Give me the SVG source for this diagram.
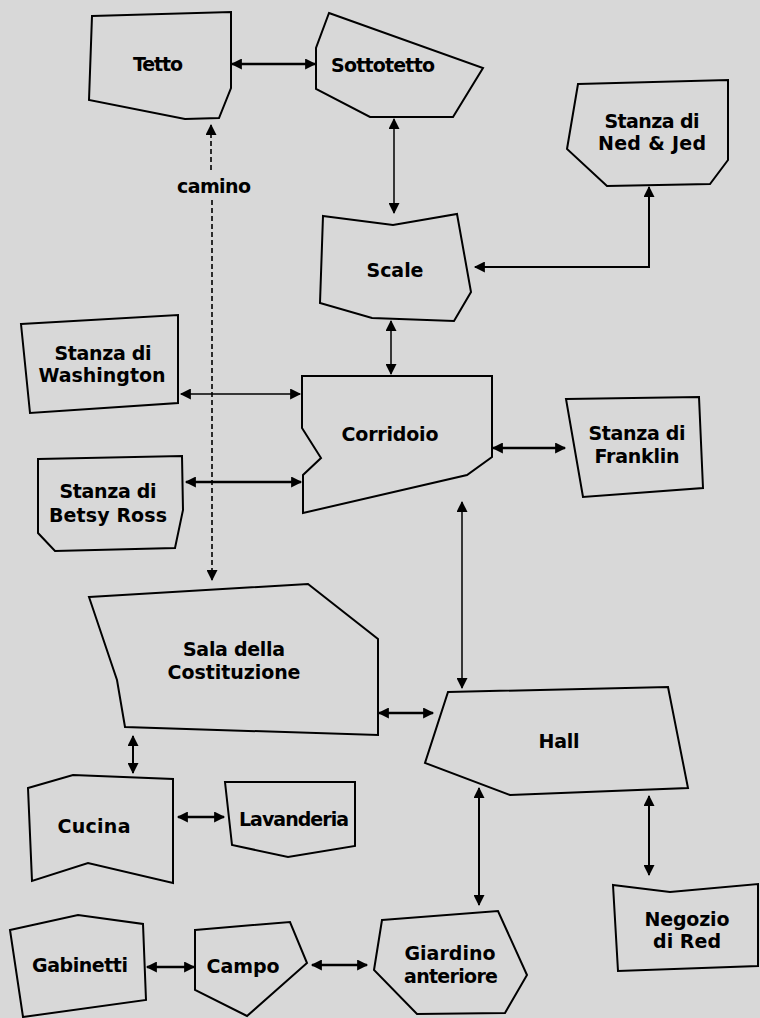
<svg xmlns="http://www.w3.org/2000/svg" width="760" height="1018" viewBox="0 0 760 1018">
<defs>
<style>
.bg{fill:#d8d8d8}
.node polygon{fill:#d8d8d8;stroke:#000;stroke-width:2;stroke-linejoin:miter}
.node text,.lbl{font-family:"DejaVu Sans","Liberation Sans",sans-serif;font-weight:bold;font-size:19px;fill:#000;text-anchor:middle}
.c{fill:none;stroke:#000;stroke-width:2;marker-start:url(#ah);marker-end:url(#ah)}
.c.thin{stroke-width:1.5}
.c.thick{stroke-width:2.5}
.c.dash{stroke-width:1.6;stroke-dasharray:5 3}
</style>
<marker id="ah" viewBox="0 0 10 10" refX="9" refY="5" markerWidth="12" markerHeight="11" markerUnits="userSpaceOnUse" orient="auto-start-reverse">
<path d="M0,0 L10,5 L0,10 z" fill="#000"/>
</marker>
</defs>
<rect class="bg" x="0" y="0" width="760" height="1018"/>

<g id="connectors">
<line class="c thick" x1="232" y1="64" x2="315" y2="64"/>
<line class="c thin" x1="394" y1="119" x2="394" y2="213"/>
<polyline class="c" points="649,187 649,267 475,267"/>
<line class="c thin" x1="391" y1="321" x2="391" y2="374"/>
<line class="c dash" x1="211" y1="125" x2="211" y2="173" style="marker-end:none"/>
<line class="c dash" x1="212" y1="200" x2="212" y2="580" style="marker-start:none"/>
<line class="c thin" x1="181" y1="394" x2="300" y2="394"/>
<line class="c thick" x1="186" y1="482" x2="301" y2="482"/>
<line class="c thick" x1="493" y1="448" x2="565" y2="448"/>
<line class="c thin" x1="462" y1="502" x2="462" y2="688"/>
<line class="c thick" x1="379" y1="713" x2="433" y2="713"/>
<line class="c" x1="133" y1="736" x2="133" y2="773"/>
<line class="c thick" x1="178" y1="817" x2="224" y2="817"/>
<line class="c" x1="479" y1="788" x2="479" y2="905"/>
<line class="c" x1="649" y1="796" x2="649" y2="875"/>
<line class="c thick" x1="147" y1="967" x2="194" y2="967"/>
<line class="c thick" x1="312" y1="965" x2="367" y2="965"/>
</g>
<text class="lbl" x="214" y="193" textLength="74" lengthAdjust="spacing">camino</text>

<g id="tetto" class="node">
<polygon points="92,16 231,12 231,88 219,118 185,119 89,100"/>
<text x="158" y="71" textLength="50" lengthAdjust="spacing">Tetto</text>
</g>
<g id="sottotetto" class="node">
<polygon points="329,13 483,68 453,117 370,117 316,89 316,48"/>
<text x="383" y="72" textLength="104" lengthAdjust="spacing">Sottotetto</text>
</g>
<g id="nedjed" class="node">
<polygon points="578,84 728,80 728,160 710,184 607,186 567,149"/>
<text x="652" y="128" textLength="95" lengthAdjust="spacing">Stanza di</text>
<text x="652" y="150" textLength="108" lengthAdjust="spacing">Ned &amp; Jed</text>
</g>
<g id="scale" class="node">
<polygon points="323,216 393,225 457,214 471,292 454,321 372,318 320,303"/>
<text x="395" y="277" textLength="57" lengthAdjust="spacing">Scale</text>
</g>
<g id="washington" class="node">
<polygon points="21,324 178,315 178,403 30,413"/>
<text x="103" y="360" textLength="97" lengthAdjust="spacing">Stanza di</text>
<text x="102" y="382" textLength="127" lengthAdjust="spacing">Washington</text>
</g>
<g id="corridoio" class="node">
<polygon points="302,376 492,376 492,457 467,475 303,513 303,475 321,458 302,428"/>
<text x="390" y="441" textLength="97" lengthAdjust="spacing">Corridoio</text>
</g>
<g id="betsy" class="node">
<polygon points="38,459 182,456 183,510 175,548 55,551 38,533"/>
<text x="108" y="498" textLength="97" lengthAdjust="spacing">Stanza di</text>
<text x="108" y="522" textLength="118" lengthAdjust="spacing">Betsy Ross</text>
</g>
<g id="franklin" class="node">
<polygon points="566,399 699,397 703,488 583,497"/>
<text x="637" y="440" textLength="97" lengthAdjust="spacing">Stanza di</text>
<text x="637" y="463" textLength="85" lengthAdjust="spacing">Franklin</text>
</g>
<g id="sala" class="node">
<polygon points="89,597 308,584 378,639 378,735 125,727 117,680"/>
<text x="234" y="656" textLength="102" lengthAdjust="spacing">Sala della</text>
<text x="234" y="679" textLength="133" lengthAdjust="spacing">Costituzione</text>
</g>
<g id="hall" class="node">
<polygon points="448,692 668,687 688,788 510,795 425,763"/>
<text x="559" y="748" textLength="41" lengthAdjust="spacing">Hall</text>
</g>
<g id="cucina" class="node">
<polygon points="28,788 73,775 173,779 173,883 88,863 32,881"/>
<text x="94" y="833" textLength="73" lengthAdjust="spacing">Cucina</text>
</g>
<g id="lavanderia" class="node">
<polygon points="225,782 355,782 355,846 288,857 232,845"/>
<text x="294" y="826" textLength="110" lengthAdjust="spacing">Lavanderia</text>
</g>
<g id="gabinetti" class="node">
<polygon points="10,930 78,915 143,924 146,1000 23,1017"/>
<text x="80" y="972" textLength="96" lengthAdjust="spacing">Gabinetti</text>
</g>
<g id="campo" class="node">
<polygon points="195,930 290,922 307,963 247,1016 195,990"/>
<text x="243" y="973" textLength="73" lengthAdjust="spacing">Campo</text>
</g>
<g id="giardino" class="node">
<polygon points="382,920 498,911 527,975 505,1013 417,1014 374,970"/>
<text x="450" y="960" textLength="91" lengthAdjust="spacing">Giardino</text>
<text x="451" y="983" textLength="94" lengthAdjust="spacing">anteriore</text>
</g>
<g id="negozio" class="node">
<polygon points="613,885 670,892 758,884 758,966 618,971"/>
<text x="687" y="926" textLength="85" lengthAdjust="spacing">Negozio</text>
<text x="687" y="948" textLength="68" lengthAdjust="spacing">di Red</text>
</g>
</svg>
